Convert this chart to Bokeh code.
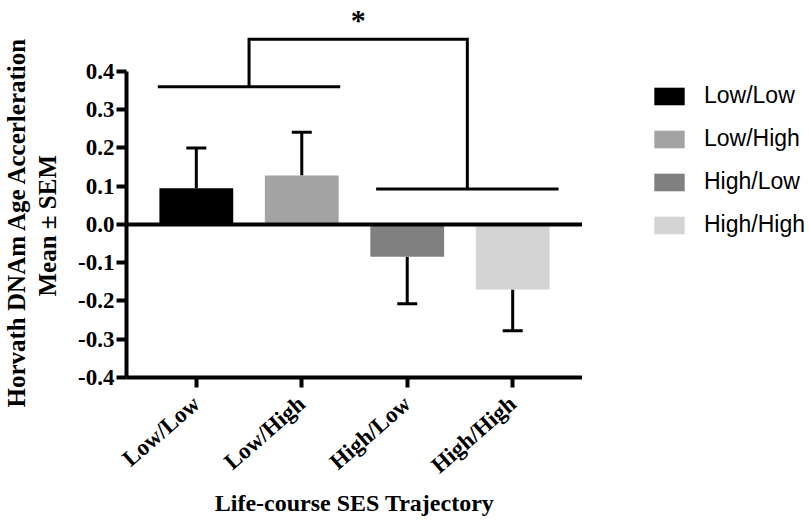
import math
from bokeh.plotting import figure
from bokeh.layouts import row
from bokeh.models import (ColumnDataSource, Whisker, TeeHead, Span, FixedTicker,
                          NumeralTickFormatter, Legend, LegendItem, Range1d, Title)
from bokeh.core.properties import value
from bokeh.embed import file_html
from bokeh.resources import INLINE

# ---------------- data ----------------
categories = ["Low/Low", "Low/High", "High/Low", "High/High"]
means = [0.095, 0.128, -0.084, -0.170]
sems = [0.105, 0.113, 0.123, 0.108]
colors = ["#000000", "#a3a3a3", "#808080", "#d4d4d4"]
y_ticks = [-0.4, -0.3, -0.2, -0.1, 0.0, 0.1, 0.2, 0.3, 0.4]
y_title_1 = "Horvath DNAm Age Accerleration"
y_title_2 = "Mean \u00b1 SEM"
x_title = "Life-course SES Trajectory"
sig_text = "*"
# significance annotation: two group bars and the connecting bracket
group_y = [0.36, 0.093]
bracket_top = 0.484

# ---------------- style ----------------
SERIF = "Liberation Serif"
SANS = "Liberation Sans"

xs = list(range(len(categories)))
ends = [m + (s if m >= 0 else -s) for m, s in zip(means, sems)]
src = ColumnDataSource(dict(x=xs, mean=means, end=ends, color=colors, label=categories))

p = figure(width=582, height=520, output_backend="svg", toolbar_location=None,
           x_range=Range1d(-0.662, 3.662), y_range=Range1d(-0.4, 0.5647),
           min_border_left=125, min_border_right=0, min_border_top=8,
           min_border_bottom=143)
p.xgrid.visible = False
p.ygrid.visible = False
p.outline_line_color = None

bars = p.vbar(x="x", top="mean", bottom=0, width=0.7, fill_color="color",
              line_color=None, source=src)

wh = Whisker(base="x", upper="end", lower="mean", source=src,
             line_color="black", line_width=3,
             upper_head=TeeHead(size=20, line_width=3, line_color="black"),
             lower_head=None)
p.add_layout(wh)

p.add_layout(Span(location=0, dimension="width", line_color="black", line_width=4))

# significance bracket
g1 = (xs[0] + xs[1]) / 2
g2 = (xs[2] + xs[3]) / 2 + 0.07
half = 0.865
p.segment(x0=[g1 - half, g2 - half], x1=[g1 + half, g2 + half],
          y0=group_y, y1=group_y, line_color="black", line_width=3)
p.line(x=[g1, g1, g2, g2], y=[group_y[0], bracket_top, bracket_top, group_y[1]],
       line_color="black", line_width=3, line_join="miter")
p.text(x=[(g1 + g2) / 2], y=[0.536], text=[sig_text], text_align="center",
       text_baseline="middle", text_font=value(SERIF), text_font_style="bold",
       text_font_size="30px", text_color="black")

# axes
ya = p.yaxis[0]
ya.bounds = (-0.4, 0.4)
ya.ticker = FixedTicker(ticks=y_ticks, minor_ticks=[])
ya.formatter = NumeralTickFormatter(format="0.0")
xa = p.xaxis[0]
xa.ticker = FixedTicker(ticks=xs, minor_ticks=[])
xa.major_label_overrides = {x: c for x, c in zip(xs, categories)}
xa.major_label_orientation = math.atan2(67, 77)
for ax in (xa, ya):
    ax.axis_line_width = 4
    ax.axis_line_color = "black"
    ax.major_tick_line_width = 4
    ax.major_tick_line_color = "black"
    ax.major_tick_out = 10
    ax.major_tick_in = 0
    ax.minor_tick_line_color = None
    ax.major_label_text_font = SERIF
    ax.major_label_text_font_style = "bold"
    ax.major_label_text_font_size = "23px"
    ax.major_label_text_color = "black"
    ax.axis_label_text_font = SERIF
    ax.axis_label_text_font_style = "bold"
    ax.axis_label_text_font_size = "24px"
    ax.axis_label_text_color = "black"
ya.major_label_standoff = 2
# blank spacer label keeps the gap between tick labels and the y title
ya.axis_label = " "
ya.axis_label_text_font_size = "10px"
ya.axis_label_standoff = 0
xa.axis_label = x_title
xa.major_label_standoff = 13
xa.axis_label_standoff = 0

# two-line y title, centred on the -0.4..0.4 axis span
t2 = Title(text=y_title_2, align="left", offset=81, standoff=0,
           vertical_align="middle", text_font=SERIF, text_font_style="bold",
           text_font_size="25px", text_color="black")
t1 = Title(text=y_title_1, align="left", offset=-30, standoff=3,
           vertical_align="middle", text_font=SERIF, text_font_style="bold",
           text_font_size="25px", text_color="black")
p.add_layout(t2, "left")
p.add_layout(t1, "left")

# legend panel (separate figure on the right)
p2 = figure(width=227, height=520, output_backend="svg", toolbar_location=None,
            x_range=Range1d(100, 101), y_range=Range1d(100, 101),
            x_axis_location=None, y_axis_location=None,
            min_border_left=0, min_border_right=0, min_border_top=0,
            min_border_bottom=0)
p2.xgrid.visible = False
p2.ygrid.visible = False
p2.outline_line_color = None
bars2 = p2.vbar(x="x", top="mean", bottom=0, width=0.7, fill_color="color",
                line_color=None, source=src)
legend = Legend(items=[LegendItem(label=c, renderers=[bars2], index=i)
                       for i, c in enumerate(categories)],
                location=(68, 139), orientation="vertical",
                glyph_width=38, glyph_height=22, label_height=27, spacing=16,
                label_standoff=16, padding=0, margin=0,
                border_line_color=None, background_fill_alpha=0,
                label_text_font=SANS, label_text_font_size="23px",
                label_text_color="black")
p2.add_layout(legend, "center")

layout = row(p, p2)
open("out.html", "w").write(file_html(layout, INLINE))
